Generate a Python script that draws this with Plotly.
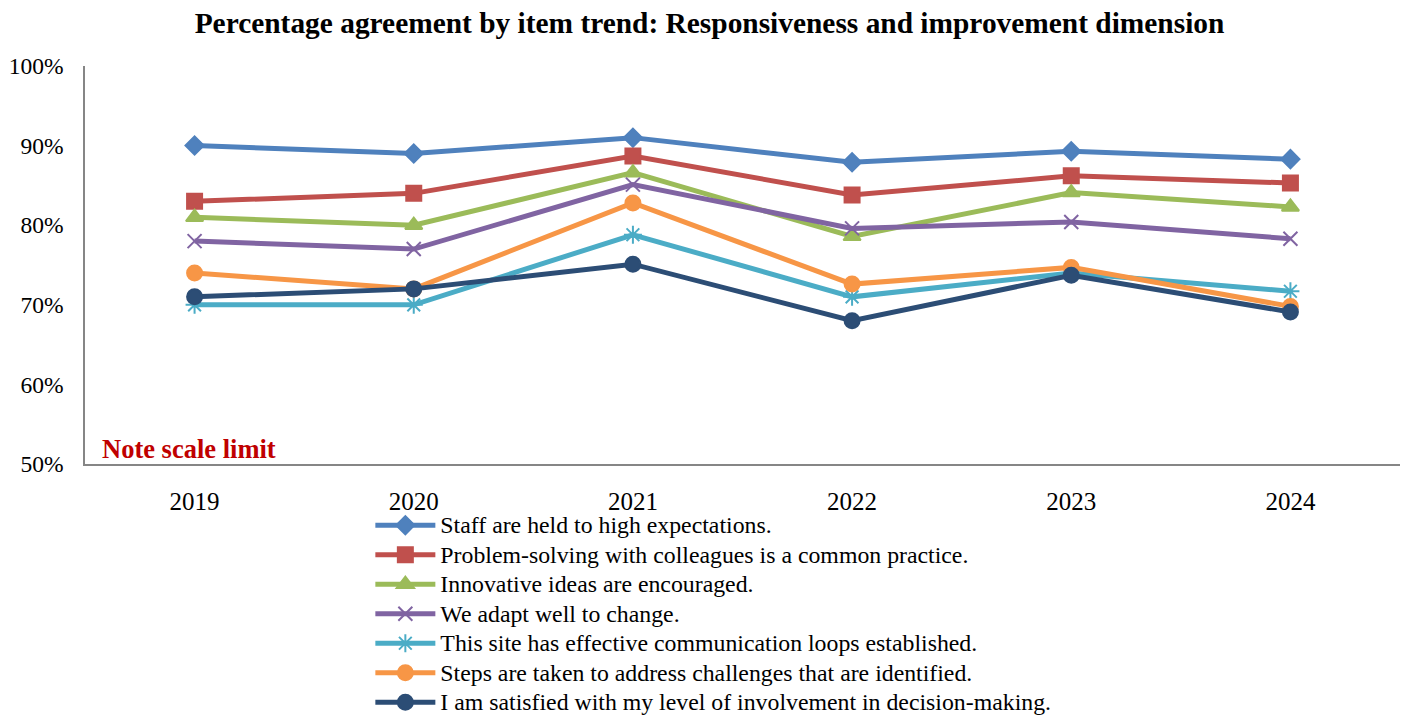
import plotly.graph_objects as go

years = ["2019", "2020", "2021", "2022", "2023", "2024"]
series_names = [
    "Staff are held to high expectations.",
    "Problem-solving with colleagues is a common practice.",
    "Innovative ideas are encouraged.",
    "We adapt well to change.",
    "This site has effective communication loops established.",
    "Steps are taken to address challenges that are identified.",
    "I am satisfied with my level of involvement in decision-making.",
]
staff_expectations = [0.90, 0.89, 0.91, 0.879, 0.893, 0.883]
problem_solving = [0.83, 0.84, 0.887, 0.838, 0.862, 0.853]
innovative_ideas = [0.81, 0.80, 0.866, 0.786, 0.841, 0.823]
adapt_change = [0.78, 0.77, 0.851, 0.796, 0.804, 0.783]
communication_loops = [0.70, 0.70, 0.788, 0.710, 0.740, 0.717]
address_challenges = [0.74, 0.72, 0.828, 0.726, 0.747, 0.698]
involvement = [0.71, 0.72, 0.751, 0.680, 0.737, 0.691]

values = [staff_expectations, problem_solving, innovative_ideas, adapt_change,
          communication_loops, address_challenges, involvement]
colors = ["#4F81BD", "#C0504D", "#9BBB59", "#8064A2", "#4BACC6", "#F79646", "#2C4D75"]
symbols = ["diamond", "square", "triangle-up", "x-thin-open", "asterisk-open", "circle", "circle"]
sizes = [14, 15, 15, 14, 15, 15, 15]

fig = go.Figure()
for name, vals, c, s, sz in zip(series_names, values, colors, symbols, sizes):
    fig.add_trace(go.Scatter(
        x=years, y=vals, mode="lines+markers",
        name='<span style="font-size:23.8px">' + name + "</span>",
        line=dict(color=c, width=5),
        marker=dict(symbol=s, size=sz, color=c, line=dict(color=c, width=2)),
    ))

fig.update_layout(
    width=1405, height=717,
    paper_bgcolor="white", plot_bgcolor="white",
    font=dict(family="Liberation Serif", color="black", size=24),
    title=dict(text="<b>Percentage agreement by item trend: Responsiveness and improvement dimension</b>",
               x=0.505, xanchor="center", y=0.969, yanchor="middle",
               font=dict(size=29.4, family="Liberation Serif")),
    margin=dict(l=85, r=5, t=66, b=253, autoexpand=False),
    showlegend=True,
    legend=dict(x=0.217, xanchor="left", y=-0.104, yanchor="top",
                font=dict(size=20.4, family="Liberation Serif"),
                tracegroupgap=0, itemwidth=60, bgcolor="rgba(0,0,0,0)"),
    xaxis=dict(type="category", range=[-0.5, 5.5], showline=True, linecolor="#868686",
               linewidth=1.5, showgrid=False, ticks="", tickfont=dict(size=25), ticklabelstandoff=14),
    yaxis=dict(range=[0.5, 1.0], tickformat=".0%", dtick=0.1, showline=True, linecolor="#868686",
               linewidth=1.5, showgrid=False, zeroline=False, ticks="", tickfont=dict(size=23.5),
               ticklabelstandoff=15),
)

fig.add_annotation(text="<b>Note scale limit</b>", xref="paper", yref="paper",
                   x=0.0114, y=0.0377, xanchor="left", yanchor="middle", showarrow=False,
                   font=dict(size=26.5, color="#C00000", family="Liberation Serif"))

fig.write_html("out.html", config={"displayModeBar": False},
               post_script="document.body.style.margin='0';document.body.style.overflow='hidden';")
